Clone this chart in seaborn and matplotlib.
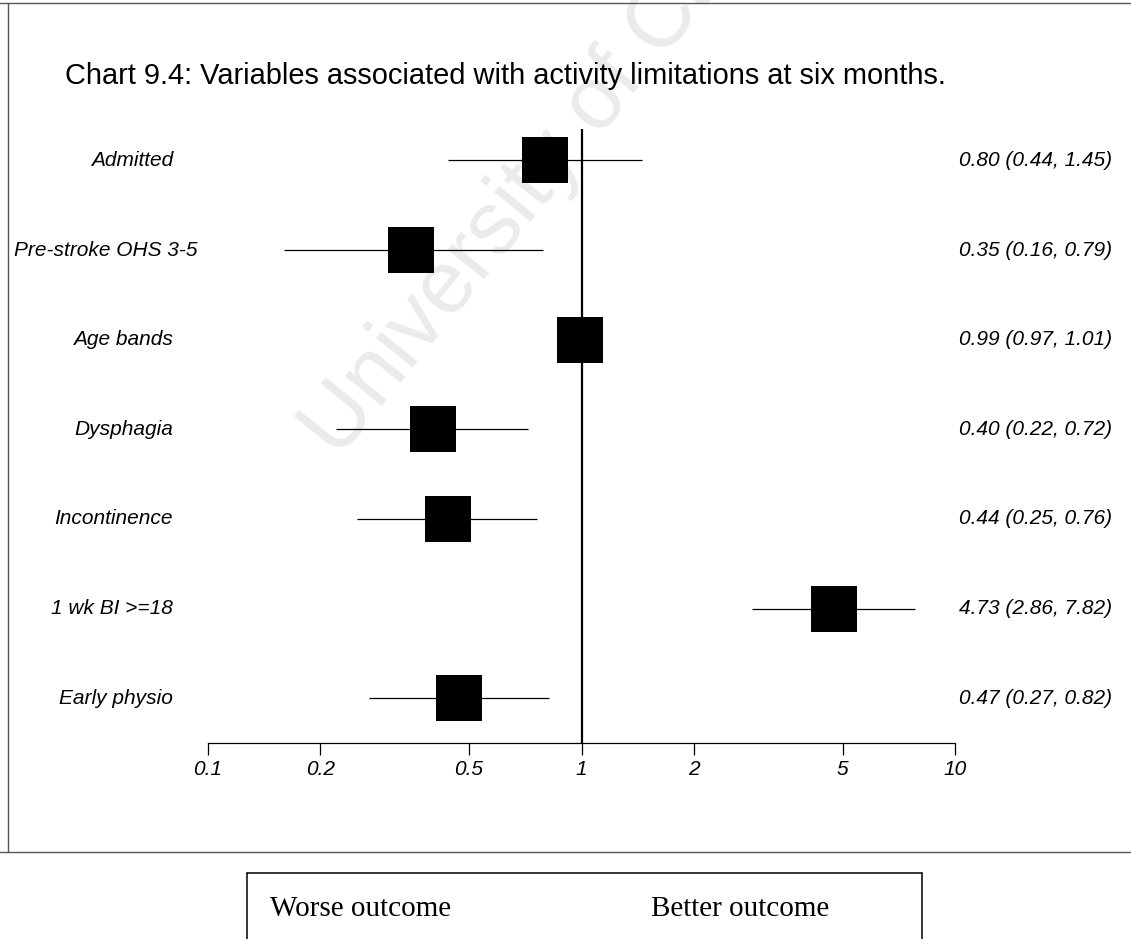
import numpy as np
import pandas as pd
import matplotlib
matplotlib.use("Agg")
import matplotlib.pyplot as plt
from matplotlib.lines import Line2D
import seaborn as sns

# Odds ratios with 95% confidence intervals
variables = ["Admitted", "Pre-stroke OHS 3-5", "Age bands", "Dysphagia",
             "Incontinence", "1 wk BI >=18", "Early physio"]
odds_ratio = [0.80, 0.35, 0.99, 0.40, 0.44, 4.73, 0.47]
ci_lower = [0.44, 0.16, 0.97, 0.22, 0.25, 2.86, 0.27]
ci_upper = [1.45, 0.79, 1.01, 0.72, 0.76, 7.82, 0.82]
tick_values = [0.1, 0.2, 0.5, 1, 2, 5, 10]
tick_labels = ["0.1", "0.2", "0.5", "1", "2", "5", "10"]

df = pd.DataFrame({"variable": variables, "or": odds_ratio,
                   "lo": ci_lower, "hi": ci_upper})
df["row"] = np.arange(len(df))

sns.set_theme(style="white")
plt.rcParams["font.family"] = ["Liberation Sans", "DejaVu Sans"]
plt.rcParams["text.color"] = "black"
plt.rcParams["xtick.color"] = "black"
plt.rcParams["xtick.labelcolor"] = "black"

W, H = 1131, 939
fig = plt.figure(figsize=(W / 100, H / 100), dpi=100)
fig.patch.set_facecolor("white")


def fx(px):
    return px / W


def fy(py):
    return 1 - py / H


ax = fig.add_axes([fx(208), fy(743), fx(955) - fx(208), fy(129) - fy(743)])
ax.set_facecolor("none")
ax.set_zorder(2)

# Confidence interval whiskers
ax.hlines(df["row"], df["lo"], df["hi"], color="black", lw=0.9, zorder=2)
# Reference line at OR = 1
ax.axvline(1, color="black", lw=1.6, zorder=2)
# Point estimates as squares
sns.scatterplot(data=df, x="or", y="row", marker="s", s=33 ** 2,
                color="black", linewidth=0, ax=ax, zorder=3, legend=False)

ax.set_xscale("log")
ax.set_xlim(0.1, 10)
ax.set_ylim(len(df) - 0.5, -0.35)
ax.set_xticks(tick_values)
ax.set_xticklabels(tick_labels, fontstyle="italic", fontsize=15)
ax.minorticks_off()
ax.set_yticks([])
ax.set_xlabel("")
ax.set_ylabel("")
for side in ["top", "right", "left"]:
    ax.spines[side].set_visible(False)
ax.spines["bottom"].set_color("black")
ax.spines["bottom"].set_linewidth(0.9)
ax.tick_params(axis="x", direction="out", length=8.5, width=0.9,
               color="black", pad=4, bottom=True)

# Row labels on the left and estimate text on the right
trans = matplotlib.transforms.blended_transform_factory(fig.transFigure, ax.transData)
row_texts = []
for _, r in df.iterrows():
    t = fig.text(fx(173), r["row"], r["variable"], transform=trans,
                 ha="right", va="center", fontstyle="italic", fontsize=15,
                 zorder=3)
    row_texts.append(t)
    fig.text(fx(1112), r["row"], f"{r['or']:.2f} ({r['lo']:.2f}, {r['hi']:.2f})",
             transform=trans, ha="right", va="center", fontstyle="italic",
             fontsize=15, zorder=3)

fig.canvas.draw()
renderer = fig.canvas.get_renderer()
for t in row_texts:
    bb = t.get_window_extent(renderer)
    if bb.x0 < 14:
        t.set_x(fx(14))
        t.set_ha("left")

# Title
fig.text(fx(65), fy(76), "Chart 9.4: Variables associated with activity limitations at six months.",
         ha="left", va="center", fontsize=20.9, zorder=3)

# Watermark
fig.text(fx(338), fy(460), "University of Cape Town", rotation=51,
         rotation_mode="anchor", ha="left", va="baseline", fontsize=64,
         color="#ebebeb", zorder=1)

# Page frame
frame = dict(color="#555555", lw=1.0, transform=fig.transFigure, zorder=3)
fig.add_artist(Line2D([0, 1], [fy(3), fy(3)], **frame))
fig.add_artist(Line2D([fx(8), fx(8)], [fy(3), fy(852)], **frame))
fig.add_artist(Line2D([0, 1], [fy(852), fy(852)], **frame))

# Outcome direction box
box = dict(color="black", lw=1.1, transform=fig.transFigure, zorder=3)
fig.add_artist(Line2D([fx(247), fx(922)], [fy(873), fy(873)], **box))
fig.add_artist(Line2D([fx(247), fx(247)], [fy(873), 0], **box))
fig.add_artist(Line2D([fx(922), fx(922)], [fy(873), 0], **box))
fig.text(fx(270), fy(909), "Worse outcome", ha="left", va="center",
         fontsize=21, family=["Liberation Serif", "DejaVu Serif"], zorder=3)
fig.text(fx(651), fy(909), "Better outcome", ha="left", va="center",
         fontsize=21, family=["Liberation Serif", "DejaVu Serif"], zorder=3)

fig.savefig("out.png", dpi=100)
